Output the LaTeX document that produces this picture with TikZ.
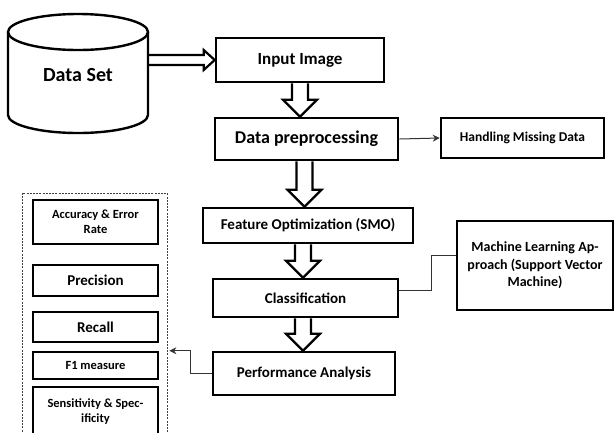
\documentclass[tikz,border=0pt]{standalone}
\usepackage{fontspec}
\setmainfont{Carlito}
\usetikzlibrary{calc,arrows.meta}

\newcommand\fs[1]{\fontsize{#1}{#1}\selectfont}
% hollow block arrow pointing down: source, target, x offset (pt) from the source centre
\newcommand\downblock[3]{%
  \draw[blockarrow] let \p1=([xshift=#3pt]#1.south), \p2=(#2.north) in
    (\x1-8pt,\y1) -- (\x1-8pt,\y2+17pt) -- (\x1-17pt,\y2+17pt) -- (\x1,\y2)
    -- (\x1+17pt,\y2+17pt) -- (\x1+8pt,\y2+17pt) -- (\x1+8pt,\y1);}

\begin{document}
\begin{tikzpicture}[x=1pt,y=-1pt,
  box/.style={draw, line width=2.6pt, fill=white, inner sep=0pt, align=center,
              font=\bfseries},
  blockarrow/.style={draw, line width=2.2pt, line join=miter},
  thinline/.style={draw=black!80, line width=1pt},
  tipline/.style={thinline, -{Stealth[length=7pt,width=7pt]}},
  dashbox/.style={draw=black!75, line width=0.8pt, dash pattern=on 2pt off 1.2pt,
                  inner sep=0pt}]
\useasboundingbox (0,0) rectangle (615,432);
\clip (0,0) rectangle (615,432);

% data set cylinder
\draw[line width=2.4pt] (78,32) ellipse [x radius=70pt, y radius=18pt];
\draw[line width=2.4pt] (8,32) -- (8,115)
  arc[start angle=180, end angle=360, x radius=70pt, y radius=18pt] -- (148,32);
\node[font=\bfseries\fs{20}] (ds) at (78,75) {Data Set};
\coordinate (dsE) at (148,60);

% main pipeline
\node[box, font=\bfseries\fs{17}, minimum width=168, minimum height=44] (inp) at (300,60) {Input Image};
\node[box, font=\bfseries\fs{18}, minimum width=183, minimum height=42] (pre) at (306.5,139) {Data preprocessing};
\node[box, font=\bfseries\fs{13.5}, minimum width=163, minimum height=40] (hmd) at (522.5,138) {Handling Missing Data};
\node[box, font=\bfseries\fs{15}, minimum width=210, minimum height=35] (feat) at (308,225.5) {Feature Optimization (SMO)};
\node[box, font=\bfseries\fs{15}, minimum width=185, minimum height=38] (cls) at (305.5,298) {Classification};
\node[box, font=\bfseries\fs{15}, minimum width=182, minimum height=43] (perf) at (304,373.5) {Performance Analysis};
\node[box, font=\bfseries\fontsize{14}{17.5}\selectfont, minimum width=156, minimum height=89] (ml) at (535,265.5)
  {Machine Learning Ap-\\proach (Support Vector\\Machine)};

% evaluation measures
\node[dashbox, minimum width=145, minimum height=267] (metrics) at (94.5,326.5) {};
\node[box, font=\bfseries\fontsize{12.5}{15}\selectfont, minimum width=125, minimum height=44] (acc) at (95.5,222) {Accuracy \& Error\\Rate};
\node[box, font=\bfseries\fs{15}, minimum width=125, minimum height=31] (prec) at (95.5,280.5) {Precision};
\node[box, font=\bfseries\fs{15}, minimum width=125, minimum height=30] (rec) at (95.5,327) {Recall};
\node[box, font=\bfseries\fs{12.5}, minimum width=125, minimum height=27] (f1) at (95.5,365.5) {F1 measure};
\node[box, font=\bfseries\fontsize{12.5}{15}\selectfont, minimum width=125, minimum height=50] (sens) at (95.5,412) {Sensitivity \& Spec-\\ificity};

% hollow block arrows
\draw[blockarrow] let \p1=(dsE), \p2=(inp.west) in
  (\x1,\y1+5pt) -- (\x2-11pt,\y1+5pt) -- (\x2-11pt,\y1+10pt) -- (\x2,\y1)
  -- (\x2-11pt,\y1-10pt) -- (\x2-11pt,\y1-5pt) -- (\x1,\y1-5pt);
\downblock{inp}{pre}{0}
\downblock{pre}{feat}{-2}
\downblock{feat}{cls}{-5}
\downblock{cls}{perf}{-2.5}

% thin connectors
\draw[tipline] (pre.east) -- (hmd.west);
\draw[thinline] ([yshift=8pt]cls.east) -- ++(32,0) |- ([yshift=10pt]ml.west);
\draw[tipline, shorten >=2pt] (perf.west) -- ++(-21,0) |- (metrics.east |- f1.north);
\end{tikzpicture}
\end{document}
